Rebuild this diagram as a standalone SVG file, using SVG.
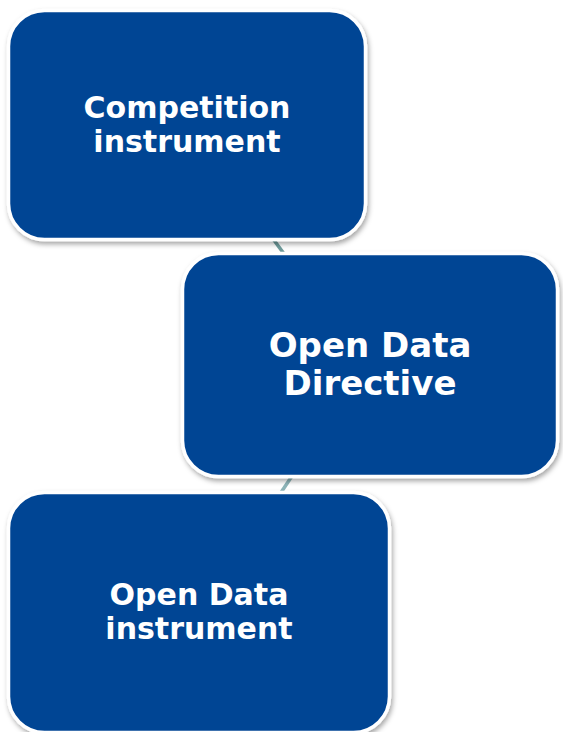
<svg xmlns="http://www.w3.org/2000/svg" width="563" height="732" viewBox="0 0 563 732">
<style>
.box{fill:#004494;stroke:#ffffff;stroke-width:3.5}
.lbl{font-family:"DejaVu Sans",Verdana,sans-serif;font-weight:bold;fill:#ffffff;text-anchor:middle}
.conn{fill:none;stroke-width:3.5;stroke-linecap:butt}
</style>
<defs>
<filter id="sh" x="-10%" y="-10%" width="125%" height="125%">
<feDropShadow dx="1.5" dy="3" stdDeviation="2.5" flood-color="#000000" flood-opacity="0.35"/>
</filter>
</defs>
<rect width="563" height="732" fill="#ffffff"/>
<g id="connectors">
<path class="conn" d="M268,232 L290,262" stroke="#6e9b9b"/>
<path class="conn" d="M296,470 L280,494" stroke="#8db4b8"/>
</g>
<g id="node-competition">
<rect class="box" x="8.5" y="10.5" width="357" height="229" rx="36" filter="url(#sh)"/>
<text class="lbl" font-size="30" x="187" y="118">Competition</text>
<text class="lbl" font-size="30" x="187" y="152">instrument</text>
</g>
<g id="node-directive">
<rect class="box" x="182.5" y="253.5" width="375" height="223" rx="36" filter="url(#sh)"/>
<text class="lbl" font-size="34" x="370" y="357">Open Data</text>
<text class="lbl" font-size="34" x="370" y="395">Directive</text>
</g>
<g id="node-instrument">
<rect class="box" x="8.5" y="492.5" width="381" height="240" rx="36" filter="url(#sh)"/>
<text class="lbl" font-size="30" x="199" y="605">Open Data</text>
<text class="lbl" font-size="30" x="199" y="639">instrument</text>
</g>
</svg>
